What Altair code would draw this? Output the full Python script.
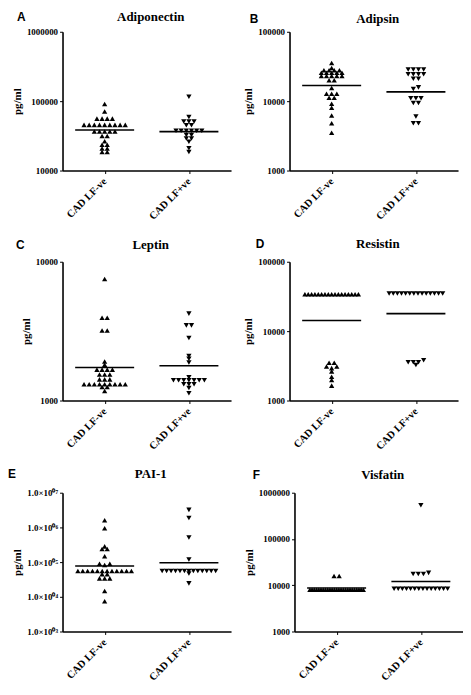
import numpy as np
import pandas as pd
import altair as alt

SERIF = "Liberation Serif"
SANS = "Liberation Sans"

CATS = ["CAD LF-ve", "CAD LF+ve"]
LETTERS = ["A", "B", "C", "D", "E", "F"]
TITLES = ["Adiponectin", "Adipsin", "Leptin", "Resistin", "PAI-1", "Visfatin"]

# ---- values (pg/ml) ----
adiponectin_neg = [91000, 71000, 56000, 56000, 56000, 56000,
                   45500, 45500, 45500, 45500, 45500, 45500, 45500, 45500, 45500,
                   36500, 36500, 36500, 36500, 36500, 31500, 31500, 26500,
                   23500, 23500, 20800, 20800, 18500, 18500]
adiponectin_pos = [116000, 59000, 51000, 51000, 51000, 45000, 45000,
                   37500, 37500, 37500, 37500, 37500, 37500, 32500, 32500,
                   29000, 29000, 26000, 21000, 18500]
adiponectin_line = [38400, 36400]

adipsin_neg = [35400, 30000, 27800, 27800, 27800, 27800,
               25600, 25600, 25600, 25600, 25600, 23000, 23000, 23000, 23000, 23000,
               20000, 20000, 15500, 12800, 12800, 12800, 11200, 11200,
               9200, 8050, 6200, 4800, 3500]
adipsin_pos = [28500, 28500, 28500, 28500, 24500, 24500, 24500, 24500, 21000, 21000,
               15800, 15000, 11000, 11000, 11000, 9400, 9400, 6000, 4800, 4800]
adipsin_line = [16800, 13600]

leptin_neg = [7500, 3950, 3950, 3200, 3200, 1910, 1810, 1670, 1670, 1670, 1670,
              1540, 1540, 1540, 1420, 1420, 1420,
              1310, 1310, 1310, 1310, 1310, 1310, 1310, 1310, 1310, 1250, 1250, 1170]
leptin_pos = [4230, 3480, 3480, 2820, 2090, 2000, 1880, 1470,
              1400, 1400, 1400, 1400, 1400, 1400, 1400, 1310, 1310, 1310, 1230, 1130]
leptin_line = [1730, 1780]

resistin_neg = [34100] * 17 + [3500, 3500, 3100, 3100, 2930, 2630, 2200, 1970, 1640]
resistin_pos = [34900] * 14 + [3800, 3550, 3550, 3550, 3250]
resistin_line = [14200, 17900]

pai1_neg = [1610000, 940000, 284000, 240000, 240000, 148000, 90000, 90000, 83000] + \
           [55600] * 12 + [45000, 45000, 34000, 34000, 34000, 14800, 7400]
pai1_pos = [3200000, 1880000, 513000, 119000] + [55600] * 13 + [47000, 24400]
pai1_line = [77000, 96000]

visfatin_neg = [15900, 15900] + [8000] * 25
visfatin_pos = [537000, 18500, 17500, 17500, 17500] + [8400] * 14
visfatin_line = [8700, 12000]

DOMAINS = [(1e4, 1e6), (1e3, 1e5), (1e3, 1e4), (1e3, 1e5), (1e3, 1e7), (1e3, 1e6)]
PAI1_TICK_LABELS = ["1.0×10⁰³", "1.0×10⁰⁴", "1.0×10⁰⁵", "1.0×10⁰⁶", "1.0×10⁰⁷"]

W, H = 170, 140
STEP_PX = 5.2
HALF_CAP_PX = 27
ROW_PX = 2.2


def swarm(vals, lo, hi):
    """Beeswarm-style horizontal offsets (in x data units) computed from the values."""
    v = np.asarray(vals, dtype=float)
    yp = (np.log10(v) - np.log10(lo)) / (np.log10(hi) - np.log10(lo)) * H
    order = np.argsort(yp, kind="stable")
    rows, cur, start = [], [], None
    for i in order:
        if start is None or yp[i] - start > ROW_PX:
            if cur:
                rows.append(cur)
            cur, start = [i], yp[i]
        else:
            cur.append(i)
    if cur:
        rows.append(cur)
    off = np.zeros(len(v))
    for r in rows:
        k = len(r)
        step = STEP_PX if k <= 1 else min(STEP_PX, 2 * HALF_CAP_PX / (k - 1))
        slots = sorted(np.arange(k) - (k - 1) / 2, key=lambda s: (abs(s), s))
        for j, i in enumerate(r):
            off[i] = slots[j] * step
    return off * 2.0 / W


def panel(n, neg, pos, line, letter_dx, title_y, tick_labels=None):
    lo, hi = DOMAINS[n]
    offs = np.concatenate([swarm(neg, lo, hi), swarm(pos, lo, hi)])
    df = pd.DataFrame({
        "grp": [CATS[0]] * len(neg) + [CATS[1]] * len(pos),
        "idx": [0] * len(neg) + [1] * len(pos),
        "value": list(neg) + list(pos),
        "off": offs,
    })
    ticks = [10 ** k for k in range(int(round(np.log10(lo))), int(round(np.log10(hi))) + 1)]
    yaxis_kw = dict(values=ticks, title="pg/ml", tickSize=3, labelPadding=2, titlePadding=4)
    if tick_labels:
        arr = "[" + ",".join("'" + t + "'" for t in tick_labels) + "]"
        yaxis_kw["labelExpr"] = arr + "[round(log(datum.value)/LN10) - " + str(int(round(np.log10(lo)))) + "]"
    else:
        yaxis_kw["format"] = "d"
    xaxis = alt.Axis(values=[0, 1],
                     labelExpr="['" + CATS[0] + "','" + CATS[1] + "'][datum.value]",
                     labelAngle=-45, labelAlign="right", labelBaseline="middle",
                     labelFontSize=10.5, labelFlush=False, labelOverlap=False,
                     labelPadding=6, tickSize=3, title=None)
    xscale = alt.Scale(domain=[-0.5, 1.5], nice=False, zero=False)
    yscale = alt.Scale(type="log", domain=[lo, hi], nice=False)

    pts = alt.Chart(df).transform_calculate(
        xpos="datum.idx + datum.off"
    ).mark_point(filled=True, color="black", opacity=1, size=28, strokeWidth=0).encode(
        x=alt.X("xpos:Q", scale=xscale, axis=xaxis),
        y=alt.Y("value:Q", scale=yscale, axis=alt.Axis(**yaxis_kw)),
        shape=alt.Shape("grp:N", scale=alt.Scale(domain=CATS, range=["triangle-up", "triangle-down"]),
                        legend=None),
    )
    ldf = pd.DataFrame({"idx": [0, 1], "value": line})
    rule = alt.Chart(ldf).transform_calculate(
        x1="datum.idx - 0.35", x2="datum.idx + 0.35"
    ).mark_rule(color="black", strokeWidth=1.6).encode(
        x=alt.X("x1:Q", title=None),
        x2="x2:Q",
        y=alt.Y("value:Q", title="pg/ml"),
    )
    let = alt.Chart(pd.DataFrame({"t": [LETTERS[n]]})).mark_text(
        font=SANS, fontWeight="bold", fontSize=12, align="left", baseline="middle", color="black"
    ).encode(text="t:N", x=alt.value(letter_dx), y=alt.value(title_y))
    ttl = alt.Chart(pd.DataFrame({"t": [TITLES[n]]})).mark_text(
        font=SERIF, fontWeight="bold", fontSize=13, align="center", baseline="middle", color="black"
    ).encode(text="t:N", x=alt.value(W / 2 + 4), y=alt.value(title_y))
    return alt.layer(pts, rule, let, ttl).properties(width=W, height=H)


pA = panel(0, adiponectin_neg, adiponectin_pos, adiponectin_line, -46, -15)
pB = panel(1, adipsin_neg, adipsin_pos, adipsin_line, -40, -13)
pC = panel(2, leptin_neg, leptin_pos, leptin_line, -47, -17)
pD = panel(3, resistin_neg, resistin_pos, resistin_line, -34, -18)
pE = panel(4, pai1_neg, pai1_pos, pai1_line, -55, -19, PAI1_TICK_LABELS)
pF = panel(5, visfatin_neg, visfatin_pos, visfatin_line, -42, -18)

chart = alt.vconcat(
    alt.hconcat(pA, pB, spacing=12),
    alt.hconcat(pC, pD, spacing=12),
    alt.hconcat(pE, pF, spacing=12),
    spacing=16,
).properties(padding=0).configure_axis(
    grid=False, domainColor="black", domainWidth=1.6, tickColor="black", tickWidth=1,
    labelFont=SERIF, labelFontWeight="bold", labelColor="black", labelFontSize=9,
    titleFont=SERIF, titleFontWeight="bold", titleFontSize=11, titleColor="black",
).configure_view(strokeOpacity=0)

chart.save("out.html", embed_options={"renderer": "svg", "actions": False})
